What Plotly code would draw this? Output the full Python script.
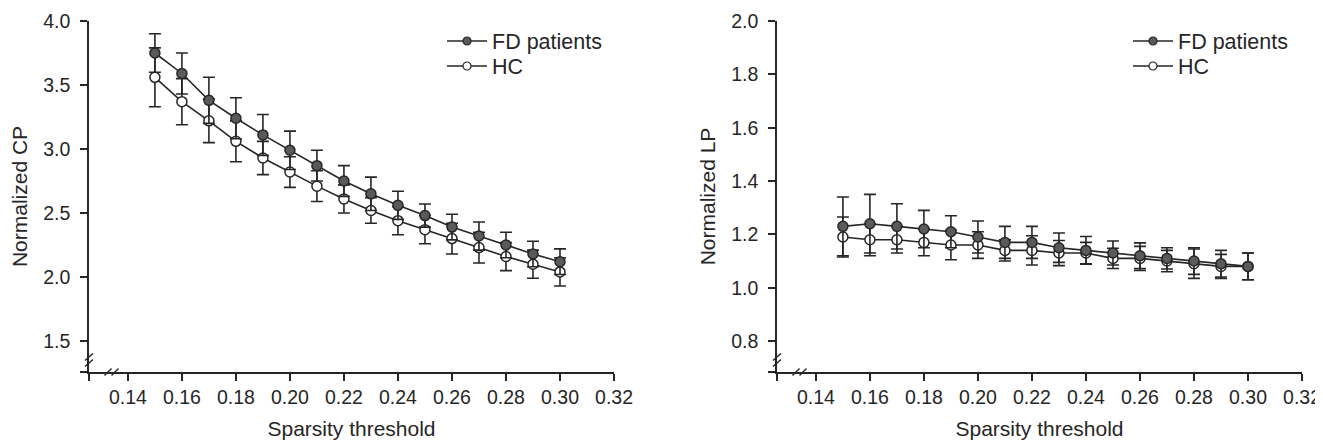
import plotly.graph_objects as go

# ---------------- data ----------------
sparsity = [0.15, 0.16, 0.17, 0.18, 0.19, 0.20, 0.21, 0.22,
            0.23, 0.24, 0.25, 0.26, 0.27, 0.28, 0.29, 0.30]

cp_fd = [3.75, 3.59, 3.38, 3.24, 3.11, 2.99, 2.87, 2.75,
         2.65, 2.56, 2.48, 2.39, 2.32, 2.25, 2.18, 2.12]
cp_fd_err = [0.15, 0.16, 0.18, 0.16, 0.16, 0.15, 0.12, 0.12,
             0.13, 0.11, 0.09, 0.10, 0.11, 0.10, 0.10, 0.10]
cp_hc = [3.56, 3.37, 3.22, 3.06, 2.93, 2.82, 2.71, 2.61,
         2.52, 2.44, 2.37, 2.30, 2.23, 2.16, 2.10, 2.04]
cp_hc_err = [0.23, 0.18, 0.17, 0.16, 0.13, 0.12, 0.12, 0.11,
             0.10, 0.11, 0.11, 0.12, 0.12, 0.11, 0.11, 0.11]

lp_fd = [1.23, 1.24, 1.23, 1.22, 1.21, 1.19, 1.17, 1.17,
         1.15, 1.14, 1.13, 1.12, 1.11, 1.10, 1.09, 1.08]
lp_fd_err = [0.11, 0.11, 0.085, 0.07, 0.06, 0.06, 0.06, 0.06,
             0.055, 0.052, 0.045, 0.048, 0.04, 0.05, 0.05, 0.05]
lp_hc = [1.19, 1.18, 1.18, 1.17, 1.16, 1.16, 1.14, 1.14,
         1.13, 1.13, 1.11, 1.11, 1.10, 1.09, 1.08, 1.08]
lp_hc_err = [0.075, 0.06, 0.05, 0.05, 0.055, 0.05, 0.04, 0.055,
             0.047, 0.04, 0.038, 0.045, 0.04, 0.055, 0.045, 0.05]

series_names = ["FD patients", "HC"]
x_ticks = [0.14, 0.16, 0.18, 0.20, 0.22, 0.24, 0.26, 0.28, 0.30, 0.32]
cp_ticks = [1.5, 2.0, 2.5, 3.0, 3.5, 4.0]
lp_ticks = [0.8, 1.0, 1.2, 1.4, 1.6, 1.8, 2.0]

# ---------------- style / layout ----------------
W, H = 1323, 441
OFF = 8  # default page body margin in the exported html
INK = "#262626"
FD_FILL = "#5a5a5a"
FONT = "Liberation Sans, Arial, sans-serif"

X_MIN, X_MAX = 0.1256, 0.32
CP_MIN, CP_MAX = 1.258, 4.0
LP_MIN, LP_MAX = 0.684, 2.0

L1, R1 = 89, 614
L2, R2 = 777, 1302
TOP, BOT = 21, 372


def px(v):
    return (v - OFF) / W


def py(v):
    return 1 - (v - OFF) / H


fig = go.Figure()


def add_pair(xaxis, yaxis, fd, fd_err, hc, hc_err, leg_fd, leg_hc):
    common = dict(x=sparsity, mode="lines+markers", xaxis=xaxis, yaxis=yaxis,
                  line=dict(color=INK, width=1.6), showlegend=False)
    fig.add_trace(go.Scatter(
        y=hc, name=series_names[1],
        error_y=dict(type="data", array=hc_err, visible=True,
                     color=INK, thickness=1.6, width=6),
        marker=dict(symbol="circle", size=10, color="white",
                    line=dict(color=INK, width=1.5)),
        **common))
    fig.add_trace(go.Scatter(
        y=fd, name=series_names[0],
        error_y=dict(type="data", array=fd_err, visible=True,
                     color=INK, thickness=1.6, width=6),
        marker=dict(symbol="circle", size=10, color=FD_FILL,
                    line=dict(color=INK, width=1.5)),
        **common))
    # legend entries (smaller symbols as in the reference)
    fig.add_trace(go.Scatter(
        x=[None], y=[None], mode="lines+markers", name=series_names[0],
        xaxis=xaxis, yaxis=yaxis, legend=leg_fd,
        line=dict(color=INK, width=1.6),
        marker=dict(symbol="circle", size=8, color=FD_FILL,
                    line=dict(color=INK, width=1.2))))
    fig.add_trace(go.Scatter(
        x=[None], y=[None], mode="lines+markers", name=series_names[1],
        xaxis=xaxis, yaxis=yaxis, legend=leg_hc,
        line=dict(color=INK, width=1.6),
        marker=dict(symbol="circle", size=8, color="white",
                    line=dict(color=INK, width=1.2))))


add_pair("x", "y", cp_fd, cp_fd_err, cp_hc, cp_hc_err, "legend", "legend2")
add_pair("x2", "y2", lp_fd, lp_fd_err, lp_hc, lp_hc_err, "legend3", "legend4")

axis_common = dict(showline=True, linecolor=INK, linewidth=1.5,
                   ticks="outside", ticklen=7, tickwidth=1.5, tickcolor=INK,
                   showgrid=False, zeroline=False, automargin=False,
                   tickfont=dict(family=FONT, size=19.5, color=INK),
                   title_font=dict(family=FONT, size=21, color=INK))

x_vals = [X_MIN] + x_ticks
x_text = [""] + [f"{v:.2f}" for v in x_ticks]
cp_vals = [CP_MIN] + cp_ticks
cp_text = [""] + [f"{v:.1f}" for v in cp_ticks]
lp_vals = [LP_MIN] + lp_ticks
lp_text = [""] + [f"{v:.1f}" for v in lp_ticks]


def leg(xp, yp):
    return dict(x=px(xp), y=py(yp), xanchor="left", yanchor="middle",
                bgcolor="rgba(0,0,0,0)", borderwidth=0, itemwidth=40,
                font=dict(family=FONT, size=21.5, color=INK))


fig.update_layout(
    width=W, height=H,
    margin=dict(l=0, r=0, t=0, b=0, autoexpand=False),
    paper_bgcolor="white", plot_bgcolor="white",
    font=dict(family=FONT, size=19.5, color=INK),
    xaxis=dict(domain=[px(L1), px(R1)], range=[X_MIN, X_MAX], anchor="y",
               tickvals=x_vals, ticktext=x_text, ticklabelstandoff=0,
               title=dict(text="Sparsity threshold", standoff=14),
               **axis_common),
    yaxis=dict(domain=[py(BOT), py(TOP)], range=[CP_MIN, CP_MAX], anchor="x",
               tickvals=cp_vals, ticktext=cp_text, ticklabelstandoff=6,
               title=dict(text="Normalized CP", standoff=10),
               **axis_common),
    xaxis2=dict(domain=[px(L2), px(R2)], range=[X_MIN, X_MAX], anchor="y2",
                tickvals=x_vals, ticktext=x_text, ticklabelstandoff=0,
                title=dict(text="Sparsity threshold", standoff=14),
                **axis_common),
    yaxis2=dict(domain=[py(BOT), py(TOP)], range=[LP_MIN, LP_MAX], anchor="x2",
                tickvals=lp_vals, ticktext=lp_text, ticklabelstandoff=6,
                title=dict(text="Normalized LP", standoff=10),
                **axis_common),
    legend=leg(442, 41),
    legend2=leg(442, 66),
    legend3=leg(1128, 41),
    legend4=leg(1128, 66),
)

# axis break marks ("//") on both axes of each panel
shapes = []
for L in (L1, L2):
    # on the y axis
    for cy in (357, 363):
        shapes.append(dict(type="line", xref="paper", yref="paper",
                           x0=px(L - 4), y0=py(cy + 3.5), x1=px(L + 4), y1=py(cy - 3.5),
                           line=dict(color=INK, width=1.5)))
    # on the x axis
    for cx in (L + 19, L + 26):
        shapes.append(dict(type="line", xref="paper", yref="paper",
                           x0=px(cx - 3.5), y0=py(BOT + 3.5), x1=px(cx + 3.5), y1=py(BOT - 3.5),
                           line=dict(color=INK, width=1.5)))
fig.update_layout(shapes=shapes)

fig.write_html("out.html")
